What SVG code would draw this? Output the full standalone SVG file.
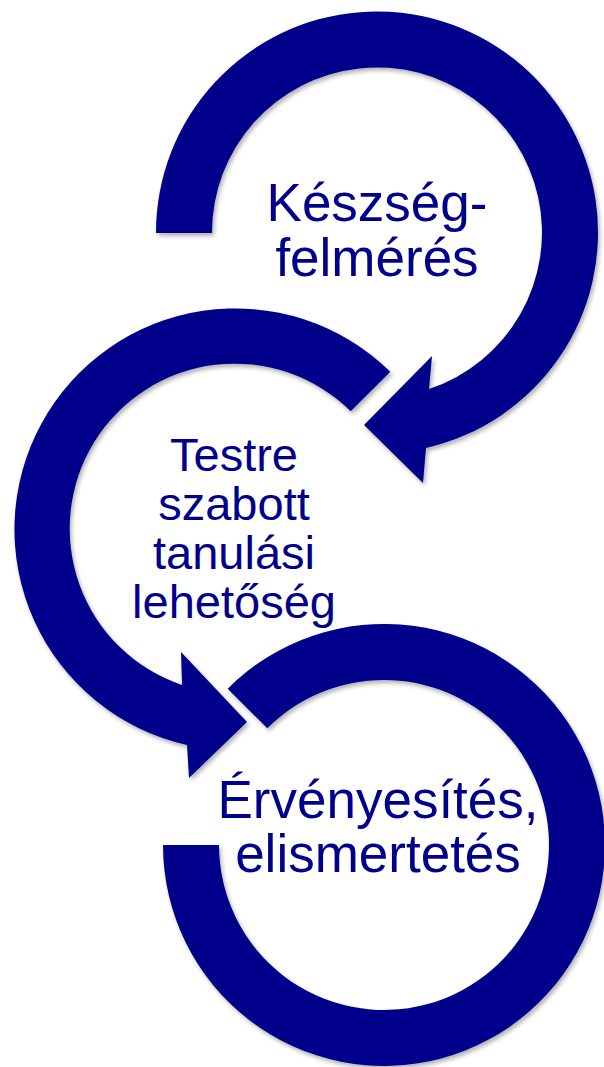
<svg xmlns="http://www.w3.org/2000/svg" width="604" height="1067" viewBox="0 0 604 1067">
<defs>
<style>
.ring{fill:#00008b;filter:url(#sh);}
.lbl{font-family:"Liberation Sans",Arial,sans-serif;fill:#00008b;text-anchor:middle;}
</style>
<filter id="sh" x="-10%" y="-10%" width="120%" height="120%">
<feDropShadow dx="2" dy="3" stdDeviation="2" flood-color="#000" flood-opacity="0.3"/>
</filter>
</defs>
<rect width="604" height="1067" fill="#fff"/>
<g id="connectors"></g>
<g id="node1">
<path class="ring" d="M156 233 A221 221 0 1 1 426 448 L423 483 L364 425 L432 356 L429 389 A165 165 0 1 0 212 233 Z"/>
<text class="lbl" font-size="53"><tspan x="377" y="221">Készség-</tspan><tspan x="377" y="275.5">felmérés</tspan></text>
</g>
<g id="node2">
<path class="ring" d="M390.3 371.7 A221 221 0 1 0 187 745 L189 778 L247 722 L181 652 L182 685 A165 165 0 1 1 350.7 411.3 Z"/>
<text class="lbl" font-size="47"><tspan x="234" y="471">Testre</tspan><tspan x="234" y="520">szabott</tspan><tspan x="234" y="569">tanulási</tspan><tspan x="234" y="618">lehetőség</tspan></text>
</g>
<g id="node3">
<path class="ring" d="M163 845 A221 221 0 1 0 227.7 688.7 L267.3 728.3 A165 165 0 1 1 219 845 Z"/>
<text class="lbl" font-size="53"><tspan x="378" y="818">Érvényesítés,</tspan><tspan x="378" y="872">elismertetés</tspan></text>
</g>
</svg>
